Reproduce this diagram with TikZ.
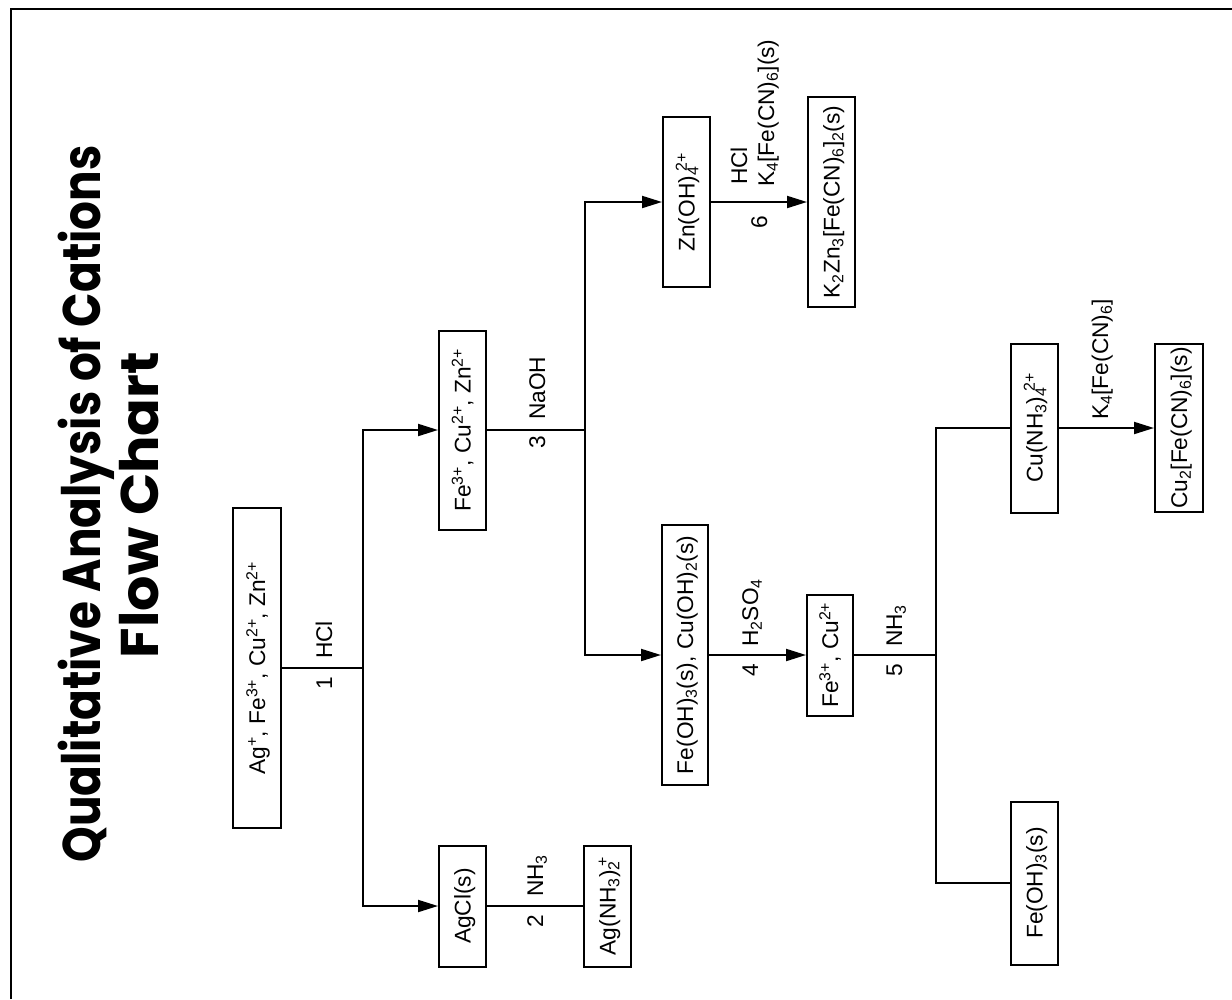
\documentclass[tikz,border=0pt]{standalone}
\usepackage{fontspec}
\setmainfont{Liberation Sans}
\newfontfamily\titlefonta{Poppins Bold}[FakeStretch=0.855]
\newfontfamily\titlefontb{Poppins Bold}[FakeStretch=1.05]
\usetikzlibrary{arrows.meta}
\newcommand\chsb[1]{\textsubscript{#1}}
\newcommand\chsp[1]{\textsuperscript{#1}}
\begin{document}
\begin{tikzpicture}[x=1pt,y=-1pt,
  every node/.style={font=\fontsize{22.7}{27}\selectfont},
  box/.style={draw, line width=2pt, rotate=90, inner sep=0pt, text height=16pt, text depth=0pt},
  lab/.style={rotate=90, inner sep=0pt},
  conn/.style={line width=2pt},
  arr/.style={line width=2pt, -{Triangle[length=20pt,width=12pt]}},
  ttl/.style={rotate=90, inner sep=0pt}]
\useasboundingbox (0,0) rectangle (1232,999);
\fill[white] (0,0) rectangle (1232,999);
\draw[line width=2pt] (11,999) -- (11,9) -- (1232,9);
% title
\node[ttl, anchor=base, font=\titlefonta\fontsize{53}{60}\selectfont] (t1) at (100,504) {Qualitative Analysis of Cations};
\node[ttl, anchor=base, font=\titlefontb\fontsize{53}{60}\selectfont] (t2) at (158,505) {Flow Chart};
% boxes
\node[box, minimum width=320pt, minimum height=48pt] (A) at (257,668) {Ag\chsp{+}, Fe\chsp{3+}, Cu\chsp{2+}, Zn\chsp{2+}};
\node[box, minimum width=199pt, minimum height=47pt] (B) at (462.5,430) {Fe\chsp{3+}, Cu\chsp{2+}, Zn\chsp{2+}};
\node[box, minimum width=121pt, minimum height=47pt] (C) at (462.5,906) {AgCl(s)};
\node[box, minimum width=121pt, minimum height=47pt] (D) at (607.5,906) {Ag(NH\chsb{3})\chsb{2}\kern-0.25em\chsp{+}};
\node[box, minimum width=170pt, minimum height=47pt] (E) at (686.5,202) {Zn(OH)\chsb{4}\kern-0.2em\chsp{2+}};
\node[box, minimum width=260pt, minimum height=46pt] (F) at (685,655) {Fe(OH)\chsb{3}(s), Cu(OH)\chsb{2}(s)};
\node[box, minimum width=121pt, minimum height=46pt] (G) at (830,655) {Fe\chsp{3+}, Cu\chsp{2+}};
\node[box, minimum width=169pt, minimum height=47pt] (H) at (1034.5,428) {Cu(NH\chsb{3})\chsb{4}\kern-0.2em\chsp{2+}};
\node[box, minimum width=163pt, minimum height=47pt] (I) at (1034.5,883) {Fe(OH)\chsb{3}(s)};
\node[box, minimum width=168pt, minimum height=48pt] (J) at (1179,428) {Cu\chsb{2}[Fe(CN)\chsb{6}](s)};
\node[box, minimum width=210pt, minimum height=47pt] (K) at (831.5,202) {K\chsb{2}Zn\chsb{3}[Fe(CN)\chsb{6}]\chsb{2}(s)};
% junctions
\coordinate (j1) at (363,668);
\coordinate (j3) at (585,430);
\coordinate (j5) at (936,655);
% connectors
\draw[conn] (A.south) -- (j1);
\draw[arr] (j1) |- (B.north);
\draw[arr] (j1) |- (C.north);
\draw[conn] (C.south) -- (D.north);
\draw[conn] (B.south) -- (j3);
\draw[arr] (j3) |- (E.north);
\draw[arr] (j3) |- (F.north);
\draw[arr] (E.south) -- (K.north);
\draw[arr] (F.south) -- (G.north);
\draw[conn] (G.south) -- (j5);
\draw[conn] (j5) |- (H.north);
\draw[conn] (j5) |- (I.north);
\draw[arr] (H.south) -- (J.north);
% labels
\node[lab, anchor=base] (n1) at (332,683.5) {1};
\node[lab, anchor=base west] (r1) at (332,659) {HCl};
\node[lab, anchor=base] (n2) at (543,921) {2};
\node[lab, anchor=base west] (r2) at (543,897) {NH\chsb{3}};
\node[lab, anchor=base] (n3) at (545,442.5) {3};
\node[lab, anchor=base west] (r3) at (545,420) {NaOH};
\node[lab, anchor=base] (n4) at (758,670) {4};
\node[lab, anchor=base west] (r4) at (758,647) {H\chsb{2}SO\chsb{4}};
\node[lab, anchor=base] (n5) at (902,670) {5};
\node[lab, anchor=base west] (r5) at (902,647) {NH\chsb{3}};
\node[lab, anchor=base] (n6) at (767,222.5) {6};
\node[lab, anchor=base west] (r6a) at (747,185) {HCl};
\node[lab, anchor=base west] (r6b) at (774,187) {K\chsb{4}[Fe(CN)\chsb{6}](s)};
\node[lab, anchor=base west] (r7) at (1108,420) {K\chsb{4}[Fe(CN)\chsb{6}]};
\end{tikzpicture}
\end{document}
